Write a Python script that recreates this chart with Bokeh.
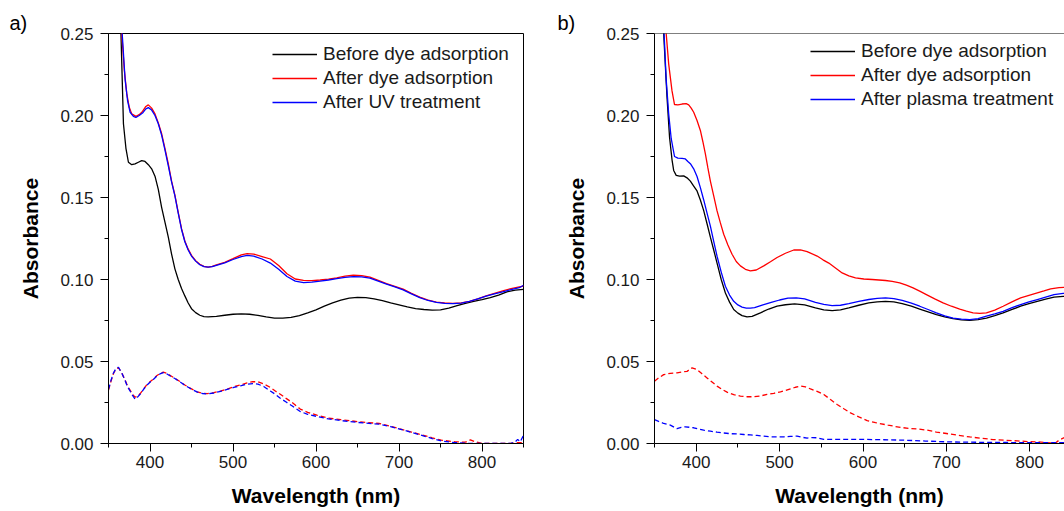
from bokeh.plotting import figure
from bokeh.layouts import row
from bokeh.models import FixedTicker, NumeralTickFormatter, Span, Range1d, Legend, LegendItem
from bokeh.embed import file_html
from bokeh.resources import INLINE

# ---------------- Panel a data ----------------
wl_a_black = [350, 358, 365, 368, 371, 374, 378, 382, 386, 390, 394, 398, 402, 406, 410, 414, 418, 422,
              426, 430, 434, 438, 442, 446, 450, 455, 460, 465, 470, 480, 490, 500, 510, 520, 530, 540,
              550, 560, 570, 580, 590, 600, 610, 620, 630, 640, 650, 660, 670, 680, 690, 700, 710, 720,
              730, 740, 750, 760, 770, 780, 790, 800, 810, 820, 830, 840, 850]
abs_a_black = [0.42, 0.31, 0.25, 0.195, 0.180, 0.1715, 0.170, 0.1705, 0.1715, 0.1725, 0.172, 0.170, 0.1675,
               0.163, 0.155, 0.144, 0.135, 0.126, 0.1155, 0.1065, 0.100, 0.0945, 0.090, 0.0857, 0.0822,
               0.0798, 0.0782, 0.0774, 0.0772, 0.0775, 0.0782, 0.0788, 0.079, 0.0788, 0.0781, 0.0772,
               0.0765, 0.0764, 0.0769, 0.078, 0.0797, 0.0815, 0.0838, 0.0858, 0.0874, 0.0886, 0.0891,
               0.0889, 0.0882, 0.0871, 0.0857, 0.0845, 0.0833, 0.0823, 0.0817, 0.0813, 0.0815, 0.0826,
               0.0841, 0.0855, 0.0866, 0.0877, 0.0889, 0.0905, 0.0925, 0.0935, 0.094]

wl_a_red = [350, 360, 366, 369, 372, 375, 378, 383, 387, 391, 395, 398, 402, 406, 410, 414, 418, 422, 426,
            430, 434, 438, 442, 446, 450, 455, 460, 465, 470, 475, 480, 490, 500, 510, 517, 525, 535, 545,
            555, 565, 575, 585, 595, 605, 615, 625, 635, 645, 655, 665, 675, 685, 695, 705, 715, 725, 735,
            745, 755, 765, 775, 785, 795, 805, 815, 825, 835, 845, 850]
abs_a_red = [0.45, 0.32, 0.25, 0.228, 0.2133, 0.205, 0.201, 0.1995, 0.2005, 0.2025, 0.2055, 0.2065, 0.2045,
             0.201, 0.1955, 0.189, 0.180, 0.1706, 0.160, 0.1515, 0.141, 0.131, 0.1235, 0.1185, 0.1147,
             0.1115, 0.1093, 0.108, 0.1076, 0.108, 0.1089, 0.1105, 0.1127, 0.115, 0.1158, 0.1155, 0.114,
             0.1125, 0.1085, 0.1035, 0.1003, 0.0995, 0.0993, 0.0997, 0.1002, 0.101, 0.102, 0.1026, 0.1024,
             0.1015, 0.0995, 0.0975, 0.0958, 0.0941, 0.0915, 0.0893, 0.0874, 0.0862, 0.0857, 0.0855,
             0.0857, 0.0866, 0.0882, 0.09, 0.0915, 0.093, 0.0945, 0.0955, 0.096]

wl_a_blue = [350, 360, 366.5, 370, 373, 376, 380, 383, 387, 391, 395, 398, 402, 406, 410, 414, 418, 422,
             426, 430, 434, 438, 442, 446, 450, 455, 460, 465, 470, 475, 480, 490, 500, 510, 517, 525, 535,
             545, 555, 565, 575, 585, 595, 605, 615, 625, 635, 645, 655, 665, 675, 685, 695, 705, 715, 725,
             735, 745, 755, 765, 775, 785, 795, 805, 815, 825, 835, 845, 850]
abs_a_blue = [0.44, 0.32, 0.25, 0.222, 0.209, 0.202, 0.1995, 0.1988, 0.2, 0.2015, 0.204, 0.2048, 0.2033,
              0.2, 0.195, 0.188, 0.179, 0.1695, 0.1595, 0.151, 0.1405, 0.1305, 0.123, 0.118, 0.1143,
              0.1112, 0.109, 0.1078, 0.1075, 0.1078, 0.1086, 0.1102, 0.1122, 0.114, 0.1147, 0.1142, 0.1125,
              0.11, 0.1062, 0.1018, 0.099, 0.0981, 0.0984, 0.099, 0.0997, 0.1005, 0.1013, 0.1018, 0.1016,
              0.1008, 0.099, 0.0972, 0.0955, 0.0937, 0.0912, 0.089, 0.0872, 0.086, 0.0855, 0.0853, 0.0856,
              0.0866, 0.0882, 0.0898, 0.0912, 0.0925, 0.0938, 0.095, 0.0965]

wl_a_red_dash = [350, 353, 356, 359, 362, 366, 370, 373, 376, 379, 382, 385, 388, 392, 396, 400, 404, 408,
                 412, 416, 420, 425, 430, 436, 442, 450, 457, 463, 469, 477, 485, 493, 501, 509, 517, 524,
                 530, 537, 545, 551, 557, 564, 571, 581, 590, 601, 615, 630, 651, 676, 690, 701, 715, 726,
                 740, 751, 768, 780, 786, 792, 801, 820, 834, 842, 850]
abs_a_red_dash = [0.0325, 0.038, 0.0427, 0.0455, 0.0462, 0.043, 0.0386, 0.035, 0.0325, 0.030, 0.0282,
                  0.0288, 0.0303, 0.033, 0.0357, 0.0377, 0.0393, 0.0413, 0.0427, 0.0435, 0.0428, 0.0413,
                  0.0398, 0.0378, 0.0357, 0.0333, 0.0315, 0.0307, 0.0304, 0.031, 0.032, 0.0332, 0.0346,
                  0.0357, 0.037, 0.0377, 0.0376, 0.0363, 0.0342, 0.032, 0.030, 0.0275, 0.0251, 0.021, 0.019,
                  0.0173, 0.0155, 0.0145, 0.0133, 0.0122, 0.0105, 0.0089, 0.007, 0.0055, 0.0035, 0.002,
                  0.001, 0.0008, 0.0022, 0.001, 0.0, 0.0, 0.0, 0.0005, 0.0005]

wl_a_blue_dash = [350, 353, 356, 359, 362, 366, 370, 373, 376, 379, 382, 385, 388, 392, 396, 400, 404, 408,
                  412, 416, 420, 425, 430, 436, 442, 450, 457, 463, 469, 477, 485, 493, 501, 509, 517, 524,
                  530, 537, 545, 551, 557, 564, 571, 581, 590, 601, 615, 630, 651, 676, 690, 701, 715, 726,
                  740, 751, 768, 786, 800, 820, 834, 840, 843, 846, 850]
abs_a_blue_dash = [0.033, 0.0385, 0.043, 0.0458, 0.0465, 0.043, 0.0384, 0.0345, 0.032, 0.0293, 0.027,
                   0.0283, 0.030, 0.0328, 0.0355, 0.0374, 0.039, 0.041, 0.0424, 0.0432, 0.0425, 0.041,
                   0.0396, 0.0376, 0.0355, 0.0331, 0.0313, 0.0305, 0.0302, 0.0308, 0.0318, 0.033, 0.0342,
                   0.0352, 0.0362, 0.0365, 0.0362, 0.0348, 0.032, 0.030, 0.0276, 0.0253, 0.023, 0.0195,
                   0.0178, 0.0165, 0.015, 0.014, 0.0128, 0.0118, 0.0103, 0.0088, 0.0068, 0.0052, 0.003,
                   0.0015, 0.0005, 0.0, 0.0, 0.0, 0.0, 0.001, 0.0025, 0.001, 0.005]

# ---------------- Panel b data ----------------
wl_b_black = [350, 358, 361, 365, 368, 371, 373, 376, 380, 385, 389, 393, 397, 401, 405, 409, 413, 417, 421,
              425, 430, 435, 440, 445, 450, 455, 461, 467, 477, 487, 497, 507, 518, 530, 543, 553, 563, 573,
              583, 595, 607, 617, 627, 637, 647, 658, 668, 678, 688, 698, 708, 718, 728, 738, 748, 758, 768,
              778, 789, 799, 809, 819, 829, 840, 850]
abs_b_black = [0.40, 0.29, 0.25, 0.2112, 0.187, 0.173, 0.1665, 0.1635, 0.163, 0.1632, 0.162, 0.160, 0.157,
               0.154, 0.1485, 0.142, 0.134, 0.1258, 0.118, 0.110, 0.100, 0.0918, 0.0862, 0.0817, 0.0795,
               0.078, 0.0772, 0.0775, 0.0797, 0.082, 0.0837, 0.0846, 0.0851, 0.0845, 0.0827, 0.0815, 0.081,
               0.0815, 0.0827, 0.0843, 0.0857, 0.0864, 0.0867, 0.0863, 0.0853, 0.0837, 0.082, 0.0803,
               0.0786, 0.0772, 0.0761, 0.0754, 0.0751, 0.0755, 0.0765, 0.078, 0.0796, 0.0816, 0.0837,
               0.0853, 0.0867, 0.088, 0.0892, 0.0897, 0.090]

wl_b_red = [350, 360, 364, 367, 371, 374, 378, 383, 388, 391, 394, 397, 401, 405, 408, 411, 414, 417, 421,
            425, 429, 433, 438, 443, 448, 453, 459, 465, 472, 481, 489, 497, 507, 517, 525, 533, 545, 552,
            559, 567, 575, 583, 591, 601, 611, 619, 627, 635, 644, 652, 660, 668, 676, 686, 696, 706, 716,
            724, 732, 740, 748, 758, 768, 778, 789, 799, 809, 817, 825, 835, 850]
abs_b_red = [0.45, 0.30, 0.25, 0.2315, 0.215, 0.2067, 0.2065, 0.207, 0.2072, 0.2065, 0.2045, 0.202, 0.197,
             0.1909, 0.184, 0.1766, 0.168, 0.160, 0.151, 0.1418, 0.1345, 0.1276, 0.121, 0.1154, 0.111,
             0.1083, 0.1062, 0.1052, 0.1058, 0.1083, 0.1108, 0.1134, 0.116, 0.118, 0.118, 0.117, 0.1143,
             0.112, 0.110, 0.107, 0.104, 0.1022, 0.101, 0.1003, 0.100, 0.0997, 0.0994, 0.0988, 0.098,
             0.0966, 0.0949, 0.0929, 0.0908, 0.0882, 0.0857, 0.0837, 0.082, 0.0807, 0.0797, 0.0794,
             0.0796, 0.0813, 0.0837, 0.0862, 0.0888, 0.0903, 0.0918, 0.093, 0.0943, 0.095, 0.0955]

wl_b_blue = [350, 358, 361.5, 364, 367, 370, 374, 378, 383, 387, 390, 393, 397, 401, 405, 409, 413, 417,
             421, 425, 430, 435, 440, 445, 450, 455, 460, 465, 470, 480, 490, 500, 510, 520, 530, 543, 553,
             563, 573, 583, 595, 607, 617, 627, 637, 647, 658, 668, 678, 688, 698, 708, 718, 728, 738, 748,
             758, 768, 778, 789, 799, 809, 819, 829, 840, 850]
abs_b_blue = [0.40, 0.29, 0.25, 0.222, 0.201, 0.186, 0.175, 0.174, 0.1738, 0.1735, 0.172, 0.1706, 0.1675,
              0.1628, 0.156, 0.1485, 0.1405, 0.1325, 0.1232, 0.1142, 0.1045, 0.0959, 0.0905, 0.0867,
              0.0845, 0.0832, 0.0826, 0.0825, 0.0828, 0.0845, 0.086, 0.0875, 0.0887, 0.0888, 0.0882,
              0.0861, 0.0848, 0.0841, 0.0843, 0.0853, 0.0866, 0.0878, 0.0885, 0.0888, 0.0884, 0.0873,
              0.0856, 0.0837, 0.0817, 0.0796, 0.0778, 0.0765, 0.0758, 0.0755, 0.0762, 0.0776, 0.079,
              0.0806, 0.0827, 0.0847, 0.0863, 0.0878, 0.0893, 0.0908, 0.0915, 0.092]

wl_b_red_dash = [350, 355, 361, 369, 377, 383, 389, 395, 401, 407, 413, 419, 425, 431, 437, 445, 453, 461,
                 469, 477, 485, 493, 501, 507, 513, 519, 525, 531, 537, 545, 553, 561, 569, 577, 585, 595,
                 605, 615, 630, 645, 656, 666, 676, 688, 700, 714, 728, 742, 756, 770, 785, 797, 809, 817,
                 825, 830, 835, 843, 850]
abs_b_red_dash = [0.038, 0.040, 0.042, 0.0428, 0.0431, 0.0436, 0.044, 0.0461, 0.0451, 0.0425, 0.040,
                  0.0375, 0.035, 0.033, 0.0313, 0.0298, 0.0289, 0.0285, 0.0285, 0.029, 0.0299, 0.0306,
                  0.0315, 0.0323, 0.0333, 0.0343, 0.035, 0.0345, 0.0333, 0.0318, 0.0299, 0.0268, 0.0238,
                  0.0212, 0.0187, 0.0162, 0.014, 0.0127, 0.0112, 0.0098, 0.0092, 0.0088, 0.0082, 0.007,
                  0.0061, 0.005, 0.004, 0.0032, 0.0024, 0.002, 0.0016, 0.0012, 0.001, 0.0007, 0.0004, 0.0,
                  0.002, 0.004, 0.0055]

wl_b_blue_dash = [350, 355, 361, 369, 377, 382, 387, 392, 397, 403, 409, 417, 425, 433, 441, 449, 457, 465,
                  473, 481, 489, 497, 505, 513, 521, 527, 533, 539, 545, 553, 569, 585, 601, 625, 650, 675,
                  700, 725, 750, 775, 800, 825, 850]
abs_b_blue_dash = [0.0146, 0.0135, 0.0122, 0.0112, 0.009, 0.0098, 0.0102, 0.0099, 0.0096, 0.0088, 0.0081,
                   0.0075, 0.0069, 0.0064, 0.006, 0.0058, 0.0055, 0.0052, 0.0049, 0.0045, 0.0041, 0.0041,
                   0.0041, 0.0043, 0.0045, 0.0038, 0.0033, 0.0036, 0.0035, 0.0025, 0.0025, 0.0025, 0.0025,
                   0.0023, 0.002, 0.0015, 0.001, 0.0008, 0.0007, 0.0006, 0.0005, 0.0005, 0.0005]

x_major = [400, 500, 600, 700, 800]
x_minor = [350, 450, 550, 650, 750, 850]
y_major = [0.0, 0.05, 0.10, 0.15, 0.20, 0.25]
y_minor = [0.025, 0.075, 0.125, 0.175, 0.225]

labels_a = ["Before dye adsorption", "After dye adsorption", "After UV treatment"]
labels_b = ["Before dye adsorption", "After dye adsorption", "After plasma treatment"]

FONT = "Liberation Sans"
BLACK, RED, BLUE = "#000000", "#ff0000", "#0000ff"


def make_panel(width, left, right, x_end, series, dashed, labels, legend_x, legend_y, tag, tag_dx,
               outline=True):
    p = figure(width=width, height=511, min_border_left=left, min_border_right=right,
               min_border_top=33, min_border_bottom=68,
               x_range=Range1d(350, x_end), y_range=Range1d(0.0, 0.25),
               output_backend="svg", toolbar_location=None, tools="")
    p.background_fill_color = "white"
    p.border_fill_color = "white"
    p.grid.visible = False
    if outline:
        p.outline_line_color = "black"
        p.outline_line_width = 1
        p.outline_line_alpha = 1
    else:
        p.outline_line_color = None
        p.add_layout(Span(location=0.25, dimension="width", line_color="black", line_width=1))

    # panel tag "a)" / "b)" as a left-aligned title shifted into the left border
    p.title.text = tag
    p.title.align = "left"
    p.title.offset = tag_dx
    p.title.standoff = 0
    p.title.text_font = FONT
    p.title.text_font_size = "20px"
    p.title.text_font_style = "normal"
    p.title.text_color = "black"

    for ax in (p.xaxis[0], p.yaxis[0]):
        ax.axis_line_color = "black"
        ax.axis_line_width = 1
        ax.major_tick_line_color = "black"
        ax.minor_tick_line_color = "black"
        ax.major_tick_in = 0
        ax.major_tick_out = 8
        ax.minor_tick_in = 0
        ax.minor_tick_out = 4
        ax.major_label_text_font = FONT
        ax.major_label_text_font_size = "17px"
        ax.major_label_text_color = "#1a1a1a"
        ax.axis_label_text_font = FONT
        ax.axis_label_text_font_style = "bold"
        ax.axis_label_text_font_size = "21px"
        ax.axis_label_text_color = "black"

    p.xaxis.ticker = FixedTicker(ticks=x_major, minor_ticks=x_minor)
    p.yaxis.ticker = FixedTicker(ticks=y_major, minor_ticks=y_minor)
    p.yaxis.formatter = NumeralTickFormatter(format="0.00")
    p.xaxis.major_label_standoff = 4
    p.yaxis.major_label_standoff = 7
    p.xaxis.axis_label = "Wavelength (nm)"
    p.yaxis.axis_label = "Absorbance"
    p.xaxis.axis_label_standoff = 13
    p.yaxis.axis_label_standoff = 15

    renderers = []
    for (wl, ab, col) in series:
        renderers.append(p.line(wl, ab, line_color=col, line_width=1.3))
    for (wl, ab, col) in dashed:
        p.line(wl, ab, line_color=col, line_width=1.3, line_dash="5 3")

    # one single-row legend per series, stacked 24 px apart
    n = len(renderers)
    for k, (r, lab) in enumerate(zip(renderers, labels)):
        leg = Legend(items=[LegendItem(label=lab, renderers=[r])],
                     location=(legend_x, legend_y + (n - 1 - k) * 24),
                     orientation="vertical", padding=0, margin=0, spacing=0,
                     label_height=24, glyph_height=24, glyph_width=45, label_standoff=6,
                     border_line_color=None, background_fill_alpha=0.0,
                     label_text_font=FONT, label_text_font_size="19px",
                     label_text_color="#1a1a1a")
        p.add_layout(leg)
    return p


pa = make_panel(548, 108, 25, 850,
                [(wl_a_black, abs_a_black, BLACK), (wl_a_red, abs_a_red, RED),
                 (wl_a_blue, abs_a_blue, BLUE)],
                [(wl_a_red_dash, abs_a_red_dash, RED), (wl_a_blue_dash, abs_a_blue_dash, BLUE)],
                labels_a, 164, 329, "a)", -99)

pb = make_panel(516, 106, 0, 841.6,
                [(wl_b_black, abs_b_black, BLACK), (wl_b_red, abs_b_red, RED),
                 (wl_b_blue, abs_b_blue, BLUE)],
                [(wl_b_red_dash, abs_b_red_dash, RED), (wl_b_blue_dash, abs_b_blue_dash, BLUE)],
                labels_b, 156, 332, "b)", -97, outline=False)

layout = row(pa, pb)
open("out.html", "w").write(file_html(layout, INLINE))
